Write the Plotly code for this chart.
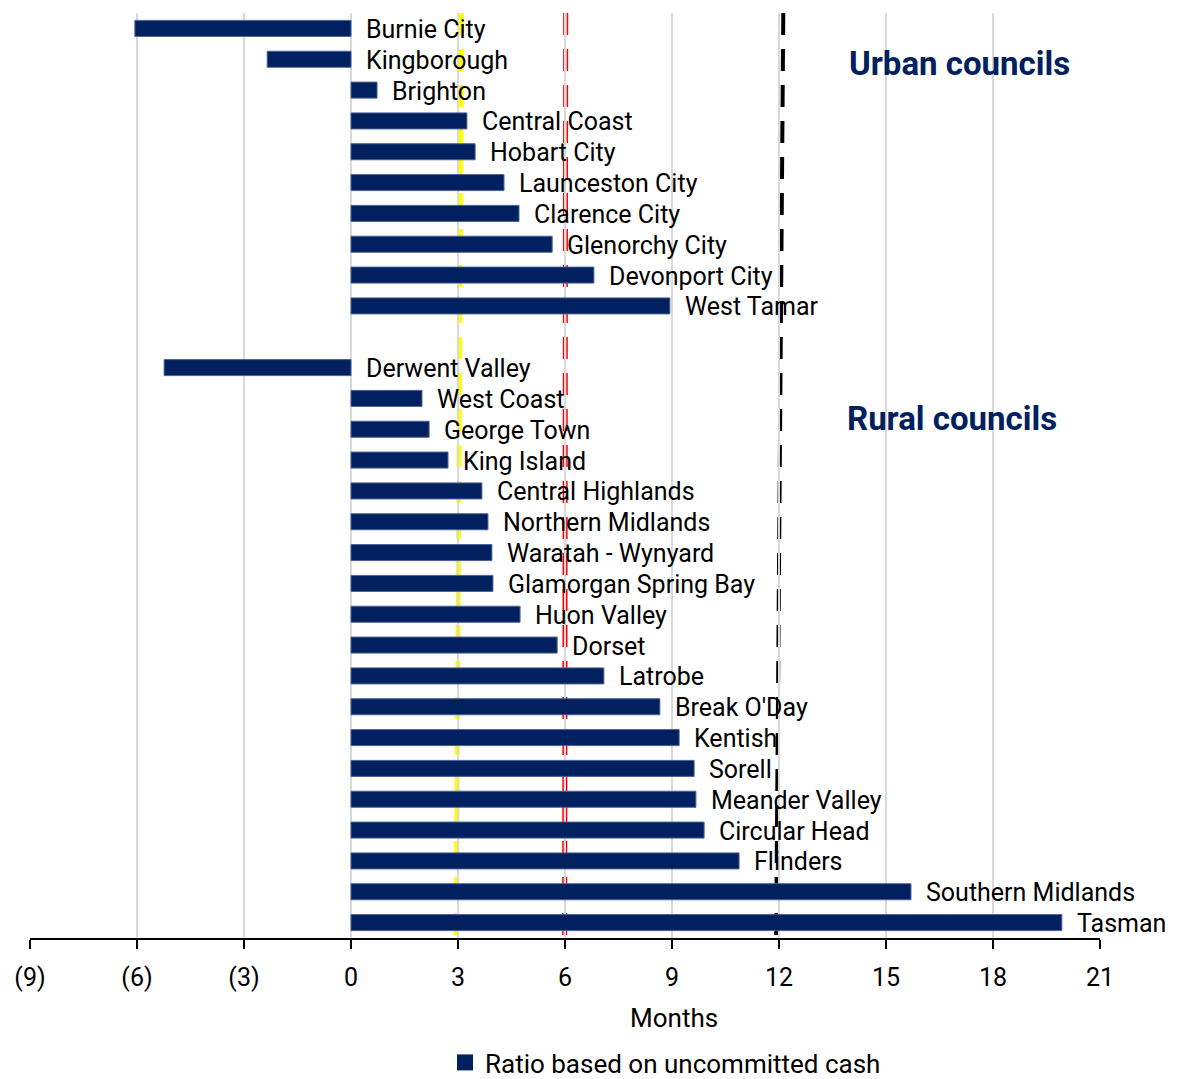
import plotly.graph_objects as go

# Months of operating expenditure covered by uncommitted cash
urban_councils = ["Burnie City", "Kingborough", "Brighton", "Central Coast", "Hobart City",
                  "Launceston City", "Clarence City", "Glenorchy City", "Devonport City", "West Tamar"]
urban_months = [-6.06, -2.35, 0.73, 3.25, 3.48, 4.29, 4.71, 5.64, 6.81, 8.94]

rural_councils = ["Derwent Valley", "West Coast", "George Town", "King Island", "Central Highlands",
                  "Northern Midlands", "Waratah - Wynyard", "Glamorgan Spring Bay", "Huon Valley",
                  "Dorset", "Latrobe", "Break O'Day", "Kentish", "Sorell", "Meander Valley",
                  "Circular Head", "Flinders", "Southern Midlands", "Tasman"]
rural_months = [-5.24, 1.99, 2.19, 2.72, 3.67, 3.84, 3.95, 3.98, 4.74, 5.78, 7.09, 8.66,
                9.20, 9.62, 9.67, 9.90, 10.88, 15.70, 19.93]

tick_values = [-9, -6, -3, 0, 3, 6, 9, 12, 15, 18, 21]
tick_labels = ["(9)", "(6)", "(3)", "0", "3", "6", "9", "12", "15", "18", "21"]

# Benchmark lines (value at top and bottom of the plot)
benchmark_yellow = (3.10, 2.95)
benchmark_red = (6.02, 5.99)
benchmark_black = (12.12, 11.92)

FONT = "Roboto, sans-serif"
NAVY = "#002060"
FS = 25
SERIES = "Ratio based on uncommitted cash"

# Urban rows first, a blank row, then rural rows
names = urban_councils + rural_councils
values = urban_months + rural_months
rows = list(range(len(urban_councils))) + [len(urban_councils) + 1 + i for i in range(len(rural_councils))]
n_rows = len(urban_councils) + 1 + len(rural_councils)

fig = go.Figure()
fig.add_trace(go.Bar(
    x=values, y=rows, orientation="h", width=0.52,
    marker=dict(color=NAVY, line=dict(color="#4a6296", width=1)),
    name=SERIES, legendgroup="s", showlegend=False,
))
# Legend key drawn as a larger square swatch
fig.add_trace(go.Scatter(
    x=[None], y=[None], mode="markers", name=SERIES, legendgroup="s",
    marker=dict(symbol="square", size=16, color=NAVY), showlegend=True,
))

for name, v, r in zip(names, values, rows):
    fig.add_annotation(x=max(v, 0), y=r, text=name, showarrow=False,
                       xanchor="left", yanchor="middle", xshift=14, yshift=-1,
                       borderpad=0,
                       font=dict(family=FONT, size=FS, color="black"))

dash = "22px,14px"
for (top, bottom), color, width in [(benchmark_yellow, "#ffff00", 5),
                                    (benchmark_red, "#ff0000", 5),
                                    (benchmark_black, "#000000", 4)]:
    fig.add_shape(type="line", xref="x", yref="paper", x0=top, y0=1, x1=bottom, y1=0,
                  line=dict(color=color, width=width, dash=dash), layer="below")
fig.add_shape(type="line", xref="x", yref="paper", x0=benchmark_red[0], y0=1,
              x1=benchmark_red[1], y1=0,
              line=dict(color="white", width=2, dash=dash), layer="below")

fig.add_annotation(x=17.07, y=1.15, text="<b>Urban councils</b>", showarrow=False,
                   font=dict(family=FONT, size=33, color=NAVY))
fig.add_annotation(x=16.85, y=12.65, text="<b>Rural councils</b>", showarrow=False,
                   font=dict(family=FONT, size=33, color=NAVY))

# Axis title
fig.add_annotation(xref="paper", yref="paper", x=(674 - 30) / 1070, y=-(1018 - 938) / 925,
                   text="Months", showarrow=False, xanchor="center", yanchor="middle",
                   font=dict(family=FONT, size=26, color="black"))

fig.update_layout(
    width=1179, height=1079,
    margin=dict(l=30, r=79, t=13, b=141, autoexpand=False),
    paper_bgcolor="white", plot_bgcolor="white",
    font=dict(family=FONT, size=FS, color="black"),
    bargap=0.48,
    showlegend=True,
    legend=dict(orientation="h", x=(445 - 30) / 1070, xanchor="left",
                y=-(1039 - 938) / 925, yanchor="top", itemsizing="trace",
                font=dict(family=FONT, size=26), itemwidth=30),
    xaxis=dict(range=[-9, 21], tickvals=tick_values, ticktext=tick_labels,
               showgrid=True, gridcolor="#d9d9d9", gridwidth=2,
               showline=True, linecolor="black", linewidth=2,
               ticks="outside", ticklen=9, tickwidth=2, tickcolor="black",
               zeroline=False, automargin=False, ticklabelstandoff=7,
               tickfont=dict(size=FS)),
    yaxis=dict(range=[n_rows - 0.5, -0.5], showticklabels=False, showgrid=False,
               zeroline=False, showline=False, ticks="", automargin=False),
)

fig.write_html("out.html")
